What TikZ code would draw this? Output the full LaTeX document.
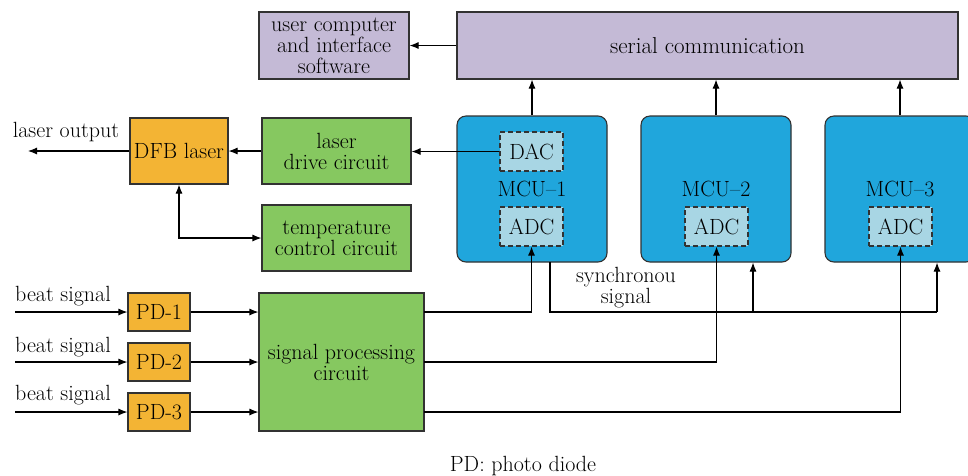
\documentclass[tikz,border=0pt]{standalone}
\usetikzlibrary{arrows.meta}
\definecolor{cpurple}{RGB}{196,186,214}
\definecolor{cblue}{RGB}{32,166,220}
\definecolor{clight}{RGB}{168,214,228}
\definecolor{cgreen}{RGB}{134,200,96}
\definecolor{corange}{RGB}{243,180,52}
\definecolor{cedge}{RGB}{50,50,50}
\begin{document}
\begin{tikzpicture}[x=1pt,y=-1pt,
  every node/.style={font=\fontsize{22}{21}\selectfont, inner sep=0pt, align=center},
  blk/.style={draw=cedge, line width=1.1pt, minimum width=#1},
  purp/.style={blk=150pt, fill=cpurple, minimum height=67pt},
  grn/.style={blk=149pt, fill=cgreen, minimum height=66pt},
  orng/.style={blk=62pt, fill=corange, minimum height=38pt},
  mcubox/.style={draw=cedge, line width=1.1pt, fill=cblue, rounded corners=9pt, minimum width=150pt, minimum height=146pt},
  conv/.style={draw=cedge, line width=1.1pt, dashed, dash pattern=on 5pt off 3pt, fill=clight, minimum width=63pt, minimum height=39pt},
  wire/.style={line width=1.1pt, draw=black},
  arr/.style={wire, -{Latex[length=9pt,width=7pt]}},
  darr/.style={wire, {Latex[length=9pt,width=7pt]}-{Latex[length=9pt,width=7pt]}},
  lbl/.style={}
]
\clip (0,0) rectangle (968,475);
\useasboundingbox (0,0) rectangle (968,475);
\fill[white] (0,0) rectangle (968,475);

% top row
\node[purp] (user) at (334,45.5) {user computer\\and interface\\software};
\node[blk=501pt, fill=cpurple, minimum height=67pt, font=\fontsize{23}{21}\selectfont] (serial) at (707.5,45.5) {serial communication};

% laser part
\node[blk=98pt, fill=corange, minimum height=66pt] (dfb) at (179,151) {DFB laser};
\node[grn] (drive) at (336.5,151) {laser\\drive circuit};
\node[grn] (temp) at (336.5,238) {temperature\\control circuit};

% MCUs
\node[mcubox] (mcu1) at (532,189) {};
\node[mcubox] (mcu2) at (716,189) {};
\node[mcubox] (mcu3) at (900,189) {};
\node[conv] (dac) at (531.5,151.5) {DAC};
\node[lbl] (m1) at (532,189) {MCU--1};
\node[lbl] (m2) at (716,189) {MCU--2};
\node[lbl] (m3) at (900,189) {MCU--3};
\node[conv] (adc1) at (531.5,226.5) {ADC};
\node[conv] (adc2) at (716.5,226.5) {ADC};
\node[conv] (adc3) at (900.5,226.5) {ADC};

% photodiodes and signal processing
\node[orng] (pd1) at (159,312) {PD-1};
\node[orng] (pd2) at (159,362) {PD-2};
\node[orng] (pd3) at (159,412) {PD-3};
\node[blk=165pt, fill=cgreen, minimum height=138pt] (sp) at (341.5,362) {signal processing\\circuit};

% labels
\node[lbl] (lout) at (66,132) {laser output};
\node[lbl] (b1) at (63,296) {beat signal};
\node[lbl] (b2) at (63,347) {beat signal};
\node[lbl] (b3) at (63,395) {beat signal};
\node[lbl] (sync) at (626,288) {synchronou\\signal};
\node[lbl] (note) at (523,466) {PD: photo diode};

% coordinates
\coordinate (outend) at (28,151);
\coordinate (in1) at (15,312);
\coordinate (in2) at (15,362);
\coordinate (in3) at (15,412);
\coordinate (s1) at (424,312);
\coordinate (s2) at (424,362);
\coordinate (s3) at (424,412);
\coordinate (syncA) at (550,262);
\coordinate (syncB) at (550,312);
\coordinate (syncC) at (937,312);
\coordinate (syncM2) at (753,312);

% connectors
\draw[arr] (serial.west) -- (user.east);
\draw[arr] (mcu1.north) -- (mcu1.north |- serial.south);
\draw[arr] (mcu2.north) -- (mcu2.north |- serial.south);
\draw[arr] (mcu3.north) -- (mcu3.north |- serial.south);
\draw[arr] (dac.west) -- (drive.east |- dac.west);
\draw[arr] (drive.west) -- (dfb.east);
\draw[arr] (dfb.west) -- (outend);
\draw[darr] (dfb.south) |- (temp.west);

\draw[arr] (in1) -- (pd1.west);
\draw[arr] (in2) -- (pd2.west);
\draw[arr] (in3) -- (pd3.west);
\draw[arr] (pd1.east) -- (pd1.east -| sp.west);
\draw[arr] (pd2.east) -- (pd2.east -| sp.west);
\draw[arr] (pd3.east) -- (pd3.east -| sp.west);

\draw[arr] (s1) -| (adc1.south);
\draw[arr] (s2) -| (adc2.south);
\draw[arr] (s3) -| (adc3.south);

\draw[wire] (syncA) -- (syncB) -- (syncC);
\draw[arr] (syncC) -- (syncC |- mcu3.south);
\draw[arr] (syncM2) -- (syncM2 |- mcu2.south);
\end{tikzpicture}
\end{document}
